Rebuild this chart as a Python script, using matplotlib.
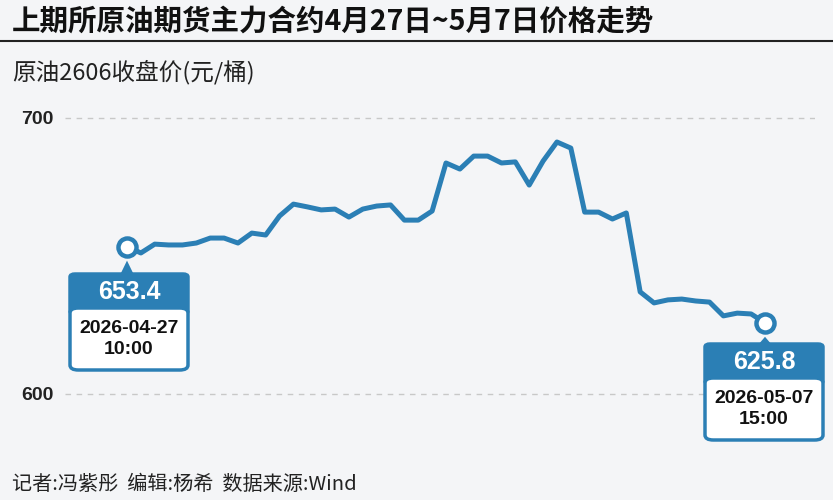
import matplotlib
matplotlib.use("Agg")
import matplotlib.pyplot as plt
from matplotlib.patches import FancyBboxPatch, Polygon
from matplotlib.lines import Line2D

plt.rcParams['font.family'] = ['Noto Sans CJK SC', 'DejaVu Sans']

title = "上期所原油期货主力合约4月27日~5月7日价格走势"
subtitle = "原油2606收盘价(元/桶)"
footer = "记者:冯紫彤  编辑:杨希  数据来源:Wind"
prices = [653.4, 651.1, 654.3, 654.0, 654.0, 654.7, 656.5, 656.5, 654.7, 658.3,
          657.6, 664.5, 668.8, 667.8, 666.7, 667.0, 664.1, 667.0, 668.1, 668.5,
          663.0, 663.0, 666.3, 683.7, 681.5, 686.2, 686.2, 683.7, 684.1, 675.7,
          684.4, 691.3, 689.1, 665.9, 665.9, 663.4, 665.6, 637.0, 633.0, 634.1,
          634.4, 633.7, 633.3, 628.3, 629.3, 629.0, 625.8]
start_label = ("653.4", "2026-04-27\n10:00")
end_label = ("625.8", "2026-05-07\n15:00")
yticks = [600, 700]

W, H = 833, 500
BLUE = "#2b7fb5"
BG = "#f4f5f7"
fig = plt.figure(figsize=(W/100, H/100), dpi=100, facecolor=BG)

def fx(px): return px / W
def fy(py): return 1 - py / H

L, R, T, B = 65, 815, 100, 460
ax = fig.add_axes([fx(L), fy(B), fx(R - L), (B - T) / H])
ax.set_facecolor(BG)
n = len(prices)
ppu = (765 - 127) / (n - 1)
ax.set_xlim(-(127 - L) / ppu, (n - 1) + (R - 765) / ppu)
ax.set_ylim(600 - (B - 394) / 2.76, 700 + (118 - T) / 2.76)
for s in ax.spines.values():
    s.set_visible(False)
ax.set_xticks([])
ax.set_yticks(yticks)
ax.set_yticklabels([str(v) for v in yticks], fontsize=14, fontweight='bold', color='#222',
                   family='Liberation Sans')
ax.tick_params(axis='y', length=0, pad=8)
for v in yticks:
    ax.axhline(v, color='#c8c8c8', lw=1, ls=(0, (4, 4)), zorder=1)

xs = list(range(n))
ax.plot(xs, prices, color=BLUE, lw=3.6, solid_joinstyle='round', zorder=3)
for i in (0, n - 1):
    ax.plot(xs[i], prices[i], 'o', ms=13, mfc='white', mec=BLUE, mew=3.2, zorder=4)

fig.canvas.draw()

def callout(i, label, cx_px, top_px):
    dx, dy = ax.transData.transform((xs[i], prices[i]))
    px_x = dx
    px_y = H - dy
    w, hh, hb = 118, 34, 62
    left = cx_px - w / 2
    tri = Polygon([(fx(px_x - 7), fy(top_px + 1)), (fx(px_x + 7), fy(top_px + 1)),
                   (fx(px_x), fy(px_y + 14))], closed=True, transform=fig.transFigure,
                  facecolor=BLUE, edgecolor='none')
    fig.patches.append(tri)
    head = FancyBboxPatch((fx(left), fy(top_px + hh + 6)), fx(w), (hh + 6) / H,
                          boxstyle="round,pad=0,rounding_size=0.006",
                          transform=fig.transFigure, facecolor=BLUE, edgecolor=BLUE, lw=2.5)
    fig.patches.append(head)
    body = FancyBboxPatch((fx(left), fy(top_px + hh + hb)), fx(w), hb / H,
                          boxstyle="round,pad=0,rounding_size=0.01",
                          transform=fig.transFigure, facecolor='white', edgecolor=BLUE, lw=2.5)
    fig.patches.append(body)
    fig.text(fx(cx_px), fy(top_px + hh / 2 + 1), label[0], color='white', fontsize=18,
             fontweight='bold', ha='center', va='center', family='Liberation Sans')
    fig.text(fx(cx_px), fy(top_px + hh + hb / 2), label[1], color='#111', fontsize=14,
             fontweight='bold', ha='center', va='center', linespacing=1.35,
             family='Liberation Sans')

callout(0, start_label, 129, 274)
callout(n - 1, end_label, 764, 344)

fig.text(fx(12), fy(22), title, fontsize=20.5, fontweight='bold', color='#111', va='center')
fig.add_artist(Line2D([0, 1], [fy(41), fy(41)], color='#222', lw=1.5, transform=fig.transFigure))
fig.text(fx(12), fy(72), subtitle, fontsize=17, color='#222', va='center')
fig.text(fx(12), fy(484), footer, fontsize=14.5, color='#222', va='center')

fig.savefig("out.png", dpi=100, facecolor=BG)
